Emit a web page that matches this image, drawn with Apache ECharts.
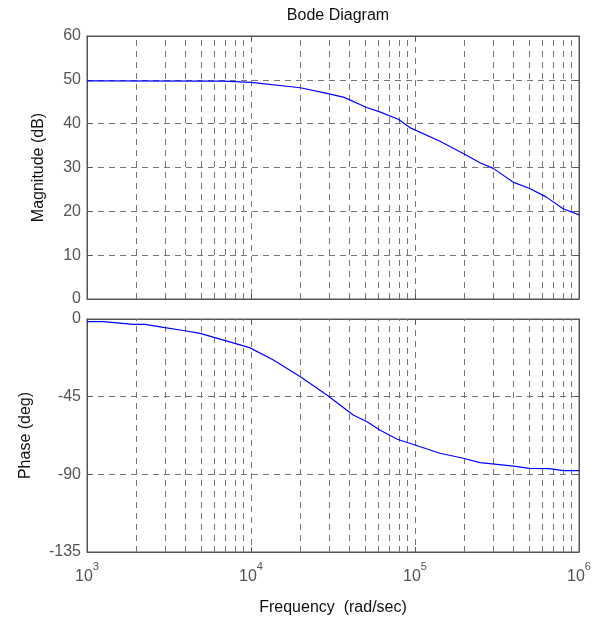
<!DOCTYPE html>
<html>
<head>
<meta charset="utf-8">
<script src="https://cdn.jsdelivr.net/npm/echarts@6/dist/echarts.min.js"></script>
<style>html,body{margin:0;padding:0;background:#fff;}#c{width:603px;height:621px;}</style>
</head>
<body>
<div id="c"></div>
<script>
// Data
const titleText = 'Bode Diagram';
const xName = 'Frequency  (rad/sec)';
const magName = 'Magnitude (dB)';
const phaseName = 'Phase (deg)';

const magFreq = [1000, 6800, 10000, 20000, 29000, 37000, 50700, 61000, 79000, 93000, 142000, 197000, 249000, 300000, 400000, 500000, 630000, 800000, 1000000];
const magDb   = [49.75, 49.7, 49.4, 48.2, 46.9, 46.0, 43.7, 42.7, 41.0, 39.1, 36.0, 33.2, 31.1, 29.8, 26.6, 25.2, 23.3, 20.6, 19.2];

const phaseFreq = [1000, 1260, 1920, 2260, 2920, 3960, 4900, 6800, 9800, 13700, 20000, 29000, 42000, 51000, 61000, 78000, 100000, 142000, 197000, 249000, 400000, 500000, 660000, 800000, 1000000];
const phaseDeg  = [-1.5, -1.5, -3.1, -3.1, -4.8, -6.8, -8.3, -12.2, -16.6, -23.8, -33.4, -44.0, -55.6, -59.5, -64.3, -69.7, -73.0, -77.8, -80.7, -83.2, -85.2, -86.5, -86.7, -87.9, -87.9];

const gridFreqs = [2000,3000,4000,5000,6000,7000,8000,9000,
                   20000,30000,40000,50000,60000,70000,80000,90000,
                   200000,300000,400000,500000,600000,700000,800000,900000];
const magTicks = [0, 60, 10];
const phaseTicks = [-135, 0, 45];

const chart = echarts.init(document.getElementById('c'), null, {renderer: 'canvas'});
const FONT = '"Liberation Sans", Arial, sans-serif';
const tickColor = '#555';
const axisColor = '#555';
const gridDash = [6, 5];
const gridColor = '#777';

function xAxisBase(gridIndex, showLabels, pos) {
  return {
    type: 'log', logBase: 10, gridIndex: gridIndex, min: 1000, max: 1000000,
    position: pos,
    axisLine: {show: true, onZero: false, lineStyle: {color: axisColor, width: 1}},
    axisTick: {show: true, inside: true, length: 5, lineStyle: {color: axisColor}},
    splitLine: {show: pos === 'bottom', lineStyle: {type: gridDash, color: gridColor, width: 1}},
    axisLabel: {
      show: showLabels, margin: 9, fontFamily: FONT, color: tickColor,
      formatter: v => '{b|10}{s|' + Math.round(Math.log10(v)) + '}',
      rich: {
        b: {fontSize: 16, fontFamily: FONT, color: tickColor, lineHeight: 24, verticalAlign: 'bottom'},
        s: {fontSize: 11, fontFamily: FONT, color: tickColor, lineHeight: 24, verticalAlign: 'top'}
      }
    }
  };
}
function yAxisBase(gridIndex, t, pos, name, gap) {
  return {
    type: 'value', gridIndex: gridIndex, min: t[0], max: t[1], interval: t[2],
    position: pos,
    name: pos === 'left' ? name : '', nameLocation: 'middle', nameGap: gap, nameRotate: 90,
    nameTextStyle: {fontFamily: FONT, fontSize: 16, color: '#111'},
    axisLine: {show: true, onZero: false, lineStyle: {color: axisColor, width: 1}},
    axisTick: {show: true, inside: true, length: 5, lineStyle: {color: axisColor}},
    splitLine: {show: pos === 'left', lineStyle: {type: gridDash, color: gridColor, width: 1}},
    axisLabel: {show: pos === 'left', fontFamily: FONT, fontSize: 16, color: tickColor, margin: 6}
  };
}
function gridMarks() {
  return {
    silent: true, symbol: 'none', animation: false,
    label: {show: false},
    lineStyle: {type: gridDash, color: gridColor, width: 1},
    data: gridFreqs.map(f => ({xAxis: f}))
  };
}

chart.setOption({
  animation: false,
  backgroundColor: '#fff',
  title: {text: titleText, left: 333, top: 3, textAlign: 'center',
          textStyle: {fontFamily: FONT, fontSize: 16, fontWeight: 'normal', color: '#111'}},
  grid: [
    {left: 87, top: 36, width: 492, height: 263, show: true, borderColor: axisColor, borderWidth: 1},
    {left: 87, top: 319, width: 492, height: 233, show: true, borderColor: axisColor, borderWidth: 1}
  ],
  xAxis: [
    xAxisBase(0, false, 'bottom'),
    xAxisBase(0, false, 'top'),
    Object.assign(xAxisBase(1, true, 'bottom'), {
      name: xName, nameLocation: 'middle', nameGap: 48,
      nameTextStyle: {fontFamily: FONT, fontSize: 16, color: '#111'}
    }),
    xAxisBase(1, false, 'top')
  ],
  yAxis: [
    yAxisBase(0, magTicks, 'left', magName, 40),
    yAxisBase(0, magTicks, 'right', '', 0),
    yAxisBase(1, phaseTicks, 'left', phaseName, 53),
    yAxisBase(1, phaseTicks, 'right', '', 0)
  ],
  series: [
    {
      type: 'line', xAxisIndex: 0, yAxisIndex: 0, showSymbol: false, symbol: 'none',
      lineStyle: {color: '#0000ff', width: 1.2},
      data: magFreq.map((f, i) => [f, magDb[i]]),
      markLine: gridMarks(), z: 5
    },
    {
      type: 'line', xAxisIndex: 2, yAxisIndex: 2, showSymbol: false, symbol: 'none',
      lineStyle: {color: '#0000ff', width: 1.2},
      data: phaseFreq.map((f, i) => [f, phaseDeg[i]]),
      markLine: gridMarks(), z: 5
    }
  ]
});
</script>
</body>
</html>
